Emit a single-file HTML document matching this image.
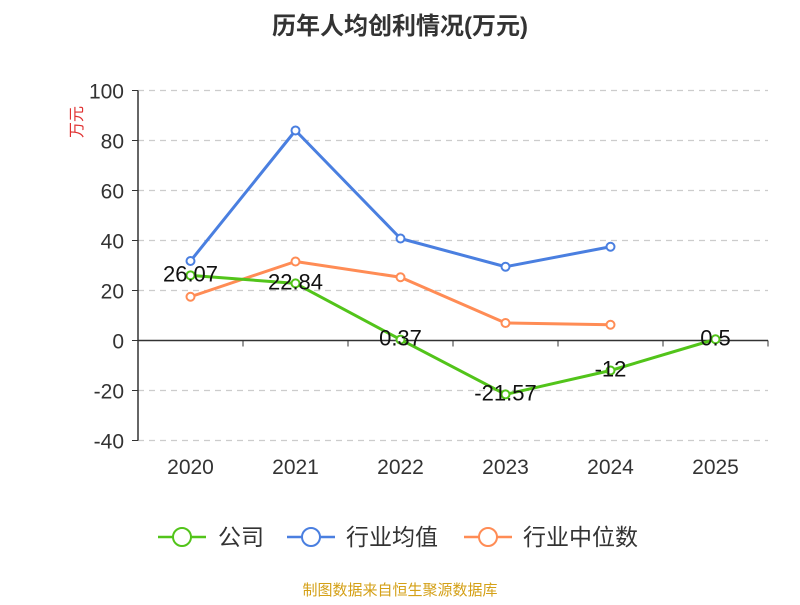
<!DOCTYPE html>
<html><head><meta charset="utf-8"><style>
body{margin:0;background:#fff;}
svg text{font-family:"Liberation Sans","Noto Sans CJK SC",sans-serif;}
</style></head><body>
<svg id="chart" width="800" height="600">
<text x="400" y="34" text-anchor="middle" font-size="24" font-weight="bold" fill="#333">历年人均创利情况(万元)</text>
<text transform="translate(82,122) rotate(-90)" text-anchor="middle" font-size="16" fill="#e03030">万元</text>
<g id="grid"></g><g id="axes"></g><g id="series"></g>
<g>
<g><line x1="158" y1="537" x2="206" y2="537" stroke="#52c41a" stroke-width="2.5"/><circle cx="182" cy="537" r="9" fill="#fff" stroke="#52c41a" stroke-width="2"/><text x="218" y="545" font-size="23" fill="#333">公司</text></g>
<g><line x1="287" y1="537" x2="335" y2="537" stroke="#4a7fe0" stroke-width="2.5"/><circle cx="311" cy="537" r="9" fill="#fff" stroke="#4a7fe0" stroke-width="2"/><text x="346" y="545" font-size="23" fill="#333">行业均值</text></g>
<g><line x1="464" y1="537" x2="512" y2="537" stroke="#ff8c55" stroke-width="2.5"/><circle cx="488" cy="537" r="9" fill="#fff" stroke="#ff8c55" stroke-width="2"/><text x="523" y="545" font-size="23" fill="#333">行业中位数</text></g>
</g>
<text x="400" y="595" text-anchor="middle" font-size="15" fill="#d4a017">制图数据来自恒生聚源数据库</text>
</svg>
<script>
const categories=["2020","2021","2022","2023","2024","2025"];
const company=[26.07,22.84,0.37,-21.57,-12,0.5];
const companyLabels=["26.07","22.84","0.37","-21.57","-12","0.5"];
const industryAvg=[31.8,84,40.8,29.5,37.5,null];
const industryMedian=[17.5,31.6,25.3,7,6.3,null];
const yTicks=[100,80,60,40,20,0,-20,-40];
const NS="http://www.w3.org/2000/svg";
const x0=138,x1=768,yTop=90.5,yBot=440.5,ymax=100,ymin=-40;
const step=(x1-x0)/categories.length;
function xs(i){return x0+step*(i+0.5);}
function ys(v){return yTop+(ymax-v)/(ymax-ymin)*(yBot-yTop);}
function mk(tag,attrs,parent){const e=document.createElementNS(NS,tag);for(const k in attrs)e.setAttribute(k,attrs[k]);parent.appendChild(e);return e;}
const grid=document.getElementById('grid'),axes=document.getElementById('axes'),ser=document.getElementById('series');
yTicks.forEach(t=>{const y=ys(t);
 if(t!==0){const l=mk('line',{x1:x0,x2:x1,y1:y,y2:y,stroke:'#ccc','stroke-dasharray':'6,5','stroke-width':1.2},grid);
 
 }
 const tk=mk('line',{x1:x0-6,x2:x0,y1:y,y2:y,stroke:'#333'},axes);
 
 
 const tx=mk('text',{x:x0-14,y:y+8,'text-anchor':'end','font-size':21,fill:'#333'},axes);tx.textContent=t;
 
 
});
const ya=mk('line',{x1:x0,x2:x0,y1:yTop,y2:yBot,stroke:'#333','stroke-width':1.5},axes);


const xa=mk('line',{x1:x0,x2:x1,y1:ys(0),y2:ys(0),stroke:'#333','stroke-width':1.5},axes);


for(let i=0;i<=categories.length;i++){const x=x0+step*i;const t=mk('line',{x1:x,x2:x,y1:ys(0),y2:ys(0)+6,stroke:'#333'},axes);
 
 }
categories.forEach((c,i)=>{const t=mk('text',{x:xs(i),y:474,'text-anchor':'middle','font-size':21,fill:'#333'},axes);t.textContent=c;
 
 });
function series(data,color,name,r){
 const pts=[];data.forEach((v,i)=>{if(v!==null)pts.push([xs(i),ys(v)]);});
 const p=mk('polyline',{points:pts.map(p=>p.join(',')).join(' '),fill:'none',stroke:color,'stroke-width':3,'stroke-linejoin':'round'},ser);
 
 
 pts.forEach(q=>{const c=mk('circle',{cx:q[0],cy:q[1],r:r,fill:'#fff',stroke:color,'stroke-width':2},ser);
 
 });
}
series(industryAvg,'#4a7fe0','industry-average',4);
series(industryMedian,'#ff8c55','industry-median',4);
series(company,'#52c41a','company',4);
company.forEach((v,i)=>{const t=mk('text',{x:xs(i),y:ys(v)+6,'text-anchor':'middle','font-size':22,fill:'#111'},ser);t.textContent=companyLabels[i];
 
 });
</script>
</body></html>
